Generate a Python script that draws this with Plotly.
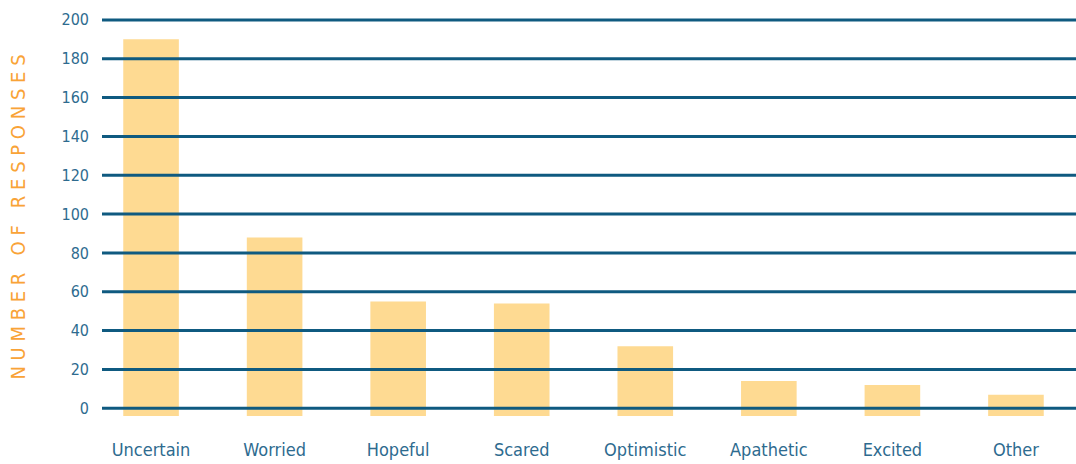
import plotly.graph_objects as go

categories = ["Uncertain", "Worried", "Hopeful", "Scared", "Optimistic", "Apathetic", "Excited", "Other"]
responses = [190, 88, 55, 54, 32, 14, 12, 7]
y_ticks = [0, 20, 40, 60, 80, 100, 120, 140, 160, 180, 200]

BAR_COLOR = "#FEDA92"
GRID_COLOR = "#0F5A80"
TEXT_COLOR = "#2E6B8F"
TITLE_COLOR = "#F9A337"
FONT = "Liberation Sans Narrow, DejaVu Sans Condensed, Arial Narrow, sans-serif"

# bars start a little below zero so they poke under the baseline
BASE = -4

fig = go.Figure()
fig.add_trace(go.Bar(
    x=categories,
    y=[v - BASE for v in responses],
    base=BASE,
    marker=dict(color=BAR_COLOR, line=dict(width=0)),
    width=0.45,
    hoverinfo="skip",
))

# horizontal rules drawn over the bars
for t in y_ticks:
    fig.add_shape(type="line", xref="paper", x0=0, x1=1, yref="y", y0=t, y1=t,
                  line=dict(color=GRID_COLOR, width=3), layer="above")

title_text = "   ".join(" ".join(word) for word in "NUMBER OF RESPONSES".split())

fig.update_layout(
    width=1076, height=464,
    margin=dict(l=102, r=0, t=16, b=46),
    paper_bgcolor="white", plot_bgcolor="white",
    showlegend=False,
    font=dict(family=FONT, color=TEXT_COLOR),
    xaxis=dict(
        range=[-0.397, 7.486],
        showgrid=False, zeroline=False, showline=False,
        tickfont=dict(size=18, color=TEXT_COLOR, family=FONT),
        ticks="", ticklabelstandoff=19,
    ),
    yaxis=dict(
        range=[-5, 202],
        tickvals=y_ticks,
        showgrid=False, zeroline=False, showline=False,
        tickfont=dict(size=16, color=TEXT_COLOR, family=FONT),
        ticks="", ticklabelstandoff=12,
        title=dict(text=title_text, font=dict(size=20, color=TITLE_COLOR, family=FONT), standoff=30),
    ),
)

fig.write_html("out.html")
